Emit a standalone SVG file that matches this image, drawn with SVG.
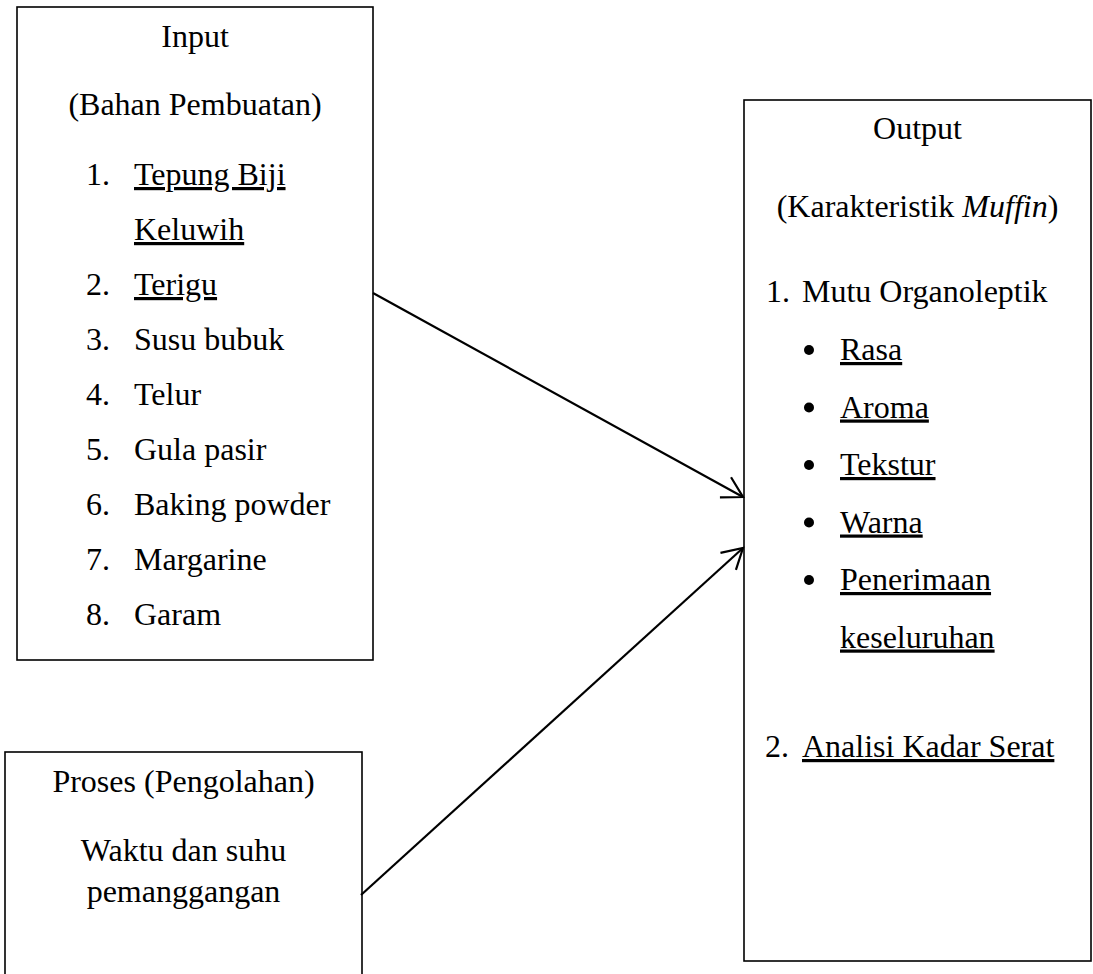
<svg xmlns="http://www.w3.org/2000/svg" width="1093" height="974" viewBox="0 0 1093 974">
<style>
.box{fill:#fff;stroke:#000;stroke-width:1.6}
text{font-family:"Liberation Serif","Times New Roman",serif;font-size:32px;fill:#000}
.c{text-anchor:middle}
.u{text-decoration:underline}
.conn{fill:none;stroke:#000;stroke-width:2.2}
</style>
<defs>
<marker id="arr" markerUnits="userSpaceOnUse" markerWidth="30" markerHeight="30" viewBox="-25 -15 30 30" refX="0" refY="0" orient="auto">
<path d="M-20,-11.5 L0,0 L-20,11.5" fill="none" stroke="#000" stroke-width="2.2"/>
</marker>
</defs>
<rect width="1093" height="974" fill="#fff"/>
<g id="input">
<rect class="box" x="17" y="7" width="356" height="653"/>
<text class="c" x="195" y="47">Input</text>
<text class="c" x="195" y="115">(Bahan Pembuatan)</text>
<text x="86" y="185">1.</text><text class="u" x="134" y="185">Tepung Biji</text>
<text class="u" x="134" y="240">Keluwih</text>
<text x="86" y="295">2.</text><text class="u" x="134" y="295">Terigu</text>
<text x="86" y="350">3.</text><text x="134" y="350">Susu bubuk</text>
<text x="86" y="405">4.</text><text x="134" y="405">Telur</text>
<text x="86" y="460">5.</text><text x="134" y="460">Gula pasir</text>
<text x="86" y="515">6.</text><text x="134" y="515">Baking powder</text>
<text x="86" y="570">7.</text><text x="134" y="570">Margarine</text>
<text x="86" y="625">8.</text><text x="134" y="625">Garam</text>
</g>
<g id="proses">
<rect class="box" x="5" y="752" width="357" height="240"/>
<text class="c" x="183.5" y="792">Proses (Pengolahan)</text>
<text class="c" x="183.5" y="861">Waktu dan suhu</text>
<text class="c" x="183.5" y="902">pemanggangan</text>
</g>
<g id="output">
<rect class="box" x="744" y="100" width="347" height="861"/>
<text class="c" x="917.5" y="139">Output</text>
<text class="c" x="917.5" y="217">(Karakteristik <tspan font-style="italic">Muffin</tspan>)</text>
<text x="766" y="302">1.</text><text x="802" y="302">Mutu Organoleptik</text>
<circle cx="809" cy="350" r="5"/><text class="u" x="840" y="360">Rasa</text>
<circle cx="809" cy="407.5" r="5"/><text class="u" x="840" y="417.5">Aroma</text>
<circle cx="809" cy="465" r="5"/><text class="u" x="840" y="475">Tekstur</text>
<circle cx="809" cy="522.5" r="5"/><text class="u" x="840" y="532.5">Warna</text>
<circle cx="809" cy="580" r="5"/><text class="u" x="840" y="590">Penerimaan</text>
<text class="u" x="840" y="647.5">keseluruhan</text>
<text x="765" y="757">2.</text><text class="u" x="802" y="757">Analisi Kadar Serat</text>
</g>
<g id="connectors">
<line class="conn" x1="373" y1="293" x2="743" y2="497" marker-end="url(#arr)"/>
<line class="conn" x1="361" y1="895" x2="743" y2="548" marker-end="url(#arr)"/>
</g>
</svg>
